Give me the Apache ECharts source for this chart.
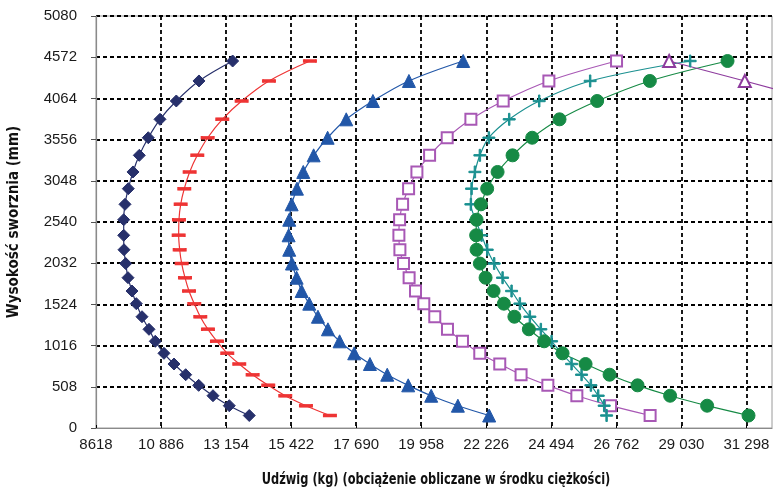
<!DOCTYPE html>
<html><head><meta charset="utf-8">
<script src="https://cdn.jsdelivr.net/npm/echarts@6/dist/echarts.min.js"></script>
<style>html,body{margin:0;padding:0;background:#fff}#c{width:773px;height:493px}</style>
</head><body><div id="c"></div>
<script>
// Heights (mm) shared by all curves, top to bottom
const heights = [4525, 4279, 4032, 3806, 3579, 3362, 3157, 2951, 2758, 2568, 2376, 2198, 2028, 1853, 1689, 1533, 1372, 1217, 1069, 921, 789, 657, 526, 398, 275, 154];
// Capacities (kg) per curve
const diamondLoads = [13383, 12209, 11418, 10849, 10441, 10128, 9908, 9744, 9629, 9584, 9584, 9594, 9653, 9734, 9873, 10023, 10222, 10466, 10685, 10988, 11337, 11745, 12198, 12697, 13265, 13962];
const dashLoads = [16078, 14649, 13697, 13021, 12512, 12150, 11884, 11696, 11571, 11511, 11501, 11536, 11606, 11721, 11861, 12045, 12254, 12522, 12836, 13195, 13613, 14080, 14624, 15217, 15939, 16775];
const triangleLoads = [21422, 19529, 18274, 17344, 16695, 16207, 15845, 15625, 15440, 15356, 15335, 15356, 15451, 15614, 15789, 16054, 16357, 16706, 17113, 17622, 18170, 18773, 19505, 20307, 21237, 22328];
const squareLoads = [26769, 24410, 22817, 21690, 20864, 20250, 19808, 19518, 19309, 19205, 19180, 19215, 19341, 19536, 19759, 20048, 20431, 20874, 21397, 22000, 22697, 23440, 24374, 25385, 26560, 27940];
const plusLoads = [29336, 25849, 24072, 23026, 22318, 22004, 21830, 21714, 21690, 21854, 22063, 22259, 22502, 22795, 23109, 23398, 23747, 24130, 24504, 24853, 25201, 25550, 25875, 26129, 26338, 26422];
const circleLoads = [30639, 27930, 26093, 24781, 23828, 23143, 22621, 22258, 22039, 21888, 21874, 21888, 22004, 22202, 22481, 22840, 23207, 23712, 24245, 24887, 25689, 26526, 27502, 28638, 29928, 31371];
const openTriHeights = [4525, 4279, 4032];
const openTriLoads = [28603, 31242, 33800];

// Axis ticks
const xTicks = [8618, 10886, 13154, 15422, 17690, 19958, 22226, 24494, 26762, 29030, 31298];
const yTicks = [0, 508, 1016, 1524, 2032, 2540, 3048, 3556, 4064, 4572, 5080];
const xTitle = 'Udźwig (kg) (obciążenie obliczane w środku ciężkości)';
const yTitle = 'Wysokość sworznia (mm)';

const pair = (xs, ys) => xs.map((x, i) => [x, ys[i]]);
const fmtX = v => {
  if (!xTicks.includes(v)) return '';
  const s = String(v);
  return s.length > 4 ? s.slice(0, s.length - 3) + ' ' + s.slice(-3) : s;
};
const fmtY = v => yTicks.includes(v) ? String(v) : '';

const chart = echarts.init(document.getElementById('c'), null, {renderer: 'canvas'});
const grid = {left: 96, right: 1, top: 16, bottom: 65, outerBoundsMode: 'none', containLabel: false, show: true, borderColor: '#9a9a9a', borderWidth: 1, backgroundColor: 'transparent'};
const dashed = {show: true, showMinLine: false, lineStyle: {color: '#000', type: [4, 3], width: 1.8}};
const lbl = {fontFamily: 'Liberation Sans, Arial, sans-serif', fontSize: 15, color: '#1a1a1a'};
const nameFamily = '"Liberation Sans Narrow", "DejaVu Sans Condensed", "Roboto Condensed", sans-serif';

function mk(name, data, color, symbol, size, smooth, extra) {
  return Object.assign({
    name, type: 'line', data, smooth: smooth, symbol, symbolSize: size,
    lineStyle: {color, width: 1.2},
    itemStyle: {color, borderColor: color},
    emphasis: {disabled: true}, clip: true, z: 3
  }, extra || {});
}

chart.setOption({
  animation: false,
  grid,
  graphic: [{
    type: 'text', x: 436, y: 480, scaleX: 0.845, silent: true,
    style: {text: xTitle, fontFamily: nameFamily, fontWeight: 'bold', fontSize: 15, fill: '#111', textAlign: 'center', textVerticalAlign: 'middle'}
  }],
  xAxis: {
    type: 'value', min: xTicks[0], max: 32190, interval: 2268,
    axisLine: {show: true, onZero: false, lineStyle: {color: '#8a8a8a', width: 1.2}},
    axisTick: {show: true, inside: true, length: 3, lineStyle: {color: '#000'}},
    axisLabel: Object.assign({margin: 9, formatter: fmtX, showMaxLabel: false}, lbl),
    splitLine: Object.assign({}, dashed, {showMaxLine: false})
  },
  yAxis: {
    type: 'value', min: yTicks[0], max: yTicks[yTicks.length - 1], interval: 508,
    axisLine: {show: true, onZero: false, lineStyle: {color: '#8a8a8a', width: 1.2}},
    axisTick: {show: true, inside: false, length: 5, lineStyle: {color: '#555'}},
    axisLabel: Object.assign({margin: 19, formatter: fmtY}, lbl),
    splitLine: Object.assign({}, dashed, {showMaxLine: true}),
    name: yTitle, nameLocation: 'middle', nameGap: 74, nameRotate: 90,
    nameTextStyle: {fontFamily: nameFamily, fontWeight: 'bold', fontSize: 15, color: '#111'}
  },
  series: [
    mk('diamond', pair(diamondLoads, heights), '#27306b', 'diamond', 12, 0.35),
    mk('dash', pair(dashLoads, heights), '#ee3434', 'path://M0,0 H10 V3 H0 Z', [12, 3], 0.35),
    mk('triangle', pair(triangleLoads, heights), '#2257a8', 'triangle', 13, 0.35),
    mk('square', pair(squareLoads, heights), '#a858b5', 'emptyRect', 11, 0.35, {itemStyle: {color: '#a858b5', borderColor: '#a858b5', borderWidth: 1.2}}),
    mk('plus', pair(plusLoads, heights), '#1a9090', 'path://M4.4,0 H5.6 V4.4 H10 V5.6 H5.6 V10 H4.4 V5.6 H0 V4.4 H4.4 Z', 12, 0.35),
    mk('circle', pair(circleLoads, heights), '#168a45', 'circle', 13, 0.35),
    mk('openTriangle', pair(openTriLoads, openTriHeights), '#8e3c9e', 'emptyTriangle', 12, false, {itemStyle: {color: '#8e3c9e', borderColor: '#8e3c9e', borderWidth: 1.2}})
  ]
});
</script></body></html>
